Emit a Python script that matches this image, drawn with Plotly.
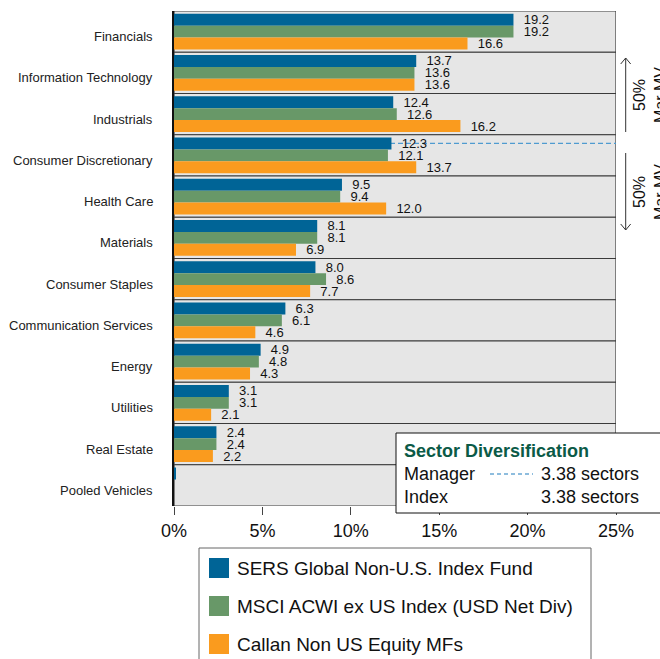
import plotly.graph_objects as go

categories = ["Financials", "Information Technology", "Industrials", "Consumer Discretionary",
              "Health Care", "Materials", "Consumer Staples", "Communication Services",
              "Energy", "Utilities", "Real Estate", "Pooled Vehicles"]
sers = [19.2, 13.7, 12.4, 12.3, 9.5, 8.1, 8.0, 6.3, 4.9, 3.1, 2.4, 0.1]
msci = [19.2, 13.6, 12.6, 12.1, 9.4, 8.1, 8.6, 6.1, 4.8, 3.1, 2.4, 0.0]
callan = [16.6, 13.6, 16.2, 13.7, 12.0, 6.9, 7.7, 4.6, 4.3, 2.1, 2.2, 0.0]
series_names = ["SERS Global Non-U.S. Index Fund", "MSCI ACWI ex US Index (USD Net Div)",
                "Callan Non US Equity MFs"]
colors = ["#006496", "#689868", "#FA9B1E"]
x_ticks = [0, 5, 10, 15, 20, 25]
x_tick_labels = ["0%", "5%", "10%", "15%", "20%", "25%"]
manager_div = "3.38 sectors"
index_div = "3.38 sectors"

FONT = "Arial, Liberation Sans, sans-serif"
L, R_EDGE, T, B_EDGE = 174, 616, 11, 506

def px(x):
    return (x - L) / (R_EDGE - L)

def py(y):
    return (B_EDGE - y) / (B_EDGE - T)

fig = go.Figure()
n = len(categories)
for name, vals, col in zip(series_names, [sers, msci, callan], colors):
    texts = ["\u00a0\u00a0%.1f" % v if c != "Pooled Vehicles" else "" for v, c in zip(vals, categories)]
    fig.add_trace(go.Bar(
        y=categories, x=vals, orientation="h", name=name,
        marker=dict(color=col, line=dict(width=0)),
        text=texts, textposition="outside", constraintext="none", cliponaxis=False,
        textfont=dict(family=FONT, size=13, color="#111"),
        showlegend=False, hoverinfo="skip"))

shapes = []
for i in range(n):
    shapes.append(dict(type="rect", xref="x", yref="y", x0=0, x1=25, y0=i - 0.5, y1=i + 0.5,
                       fillcolor="#e6e6e6", line=dict(color="#3a3a3a", width=1.2), layer="below"))
# manager cumulative 50% line (at SERS bar of Consumer Discretionary)
bw = (1 - 0.13) / 3
cd = categories.index("Consumer Discretionary")
shapes.append(dict(type="line", xref="x", yref="y", x0=0, x1=25, y0=cd - bw, y1=cd - bw,
                   line=dict(color="#4f9bd0", width=1.3, dash="5px,3px"), layer="below"))

# right side arrows
ax = px(625.7)
axl, axr = px(620.7), px(630.7)
shapes += [
    dict(type="line", xref="paper", yref="paper", x0=ax, x1=ax, y0=py(132), y1=py(58), line=dict(color="#333", width=1)),
    dict(type="path", xref="paper", yref="paper",
         path="M %f,%f L %f,%f L %f,%f" % (axl, py(64), ax, py(58), axr, py(64)), line=dict(color="#333", width=1)),
    dict(type="line", xref="paper", yref="paper", x0=ax, x1=ax, y0=py(153), y1=py(230), line=dict(color="#333", width=1)),
    dict(type="path", xref="paper", yref="paper",
         path="M %f,%f L %f,%f L %f,%f" % (axl, py(224), ax, py(230), axr, py(224)), line=dict(color="#333", width=1)),
]

# sector diversification box
shapes.append(dict(type="rect", xref="paper", yref="paper", x0=px(396), x1=px(680), y0=py(513), y1=py(433),
                   fillcolor="white", line=dict(color="#111", width=1), layer="above"))
shapes.append(dict(type="line", xref="paper", yref="paper", x0=px(490), x1=px(533), y0=py(474), y1=py(474),
                   line=dict(color="#6aa8d4", width=1.3, dash="4px,3px"), layer="above"))

# manual legend
shapes.append(dict(type="rect", xref="paper", yref="paper", x0=px(199), x1=px(591), y0=py(680), y1=py(548),
                   fillcolor="white", line=dict(color="#666", width=1), layer="above"))
leg_y = [568, 606, 644]
for yy, col in zip(leg_y, colors):
    shapes.append(dict(type="rect", xref="paper", yref="paper", x0=px(209), x1=px(229),
                       y0=py(yy + 10), y1=py(yy - 10), fillcolor=col, line=dict(width=0), layer="above"))

annotations = []
# category labels (slightly below the row centre, as in the reference)
for c in categories:
    annotations.append(dict(xref="paper", yref="y", x=0, y=c, xshift=-19, yshift=-5, text=c, showarrow=False,
                            xanchor="right", yanchor="middle", font=dict(family=FONT, size=13, color="#222")))

for yy, name in zip(leg_y, series_names):
    annotations.append(dict(xref="paper", yref="paper", x=px(235), y=py(yy), text=name, showarrow=False,
                            xanchor="left", yanchor="middle", font=dict(family=FONT, size=19, color="#111")))

annotations += [
    dict(xref="paper", yref="paper", x=px(402), y=py(451), text="<b>Sector Diversification</b>", showarrow=False,
         xanchor="left", yanchor="middle", font=dict(family=FONT, size=18, color="#0b5a47")),
    dict(xref="paper", yref="paper", x=px(402), y=py(474), text="Manager", showarrow=False,
         xanchor="left", yanchor="middle", font=dict(family=FONT, size=18, color="#111")),
    dict(xref="paper", yref="paper", x=px(402), y=py(497), text="Index", showarrow=False,
         xanchor="left", yanchor="middle", font=dict(family=FONT, size=18, color="#111")),
    dict(xref="paper", yref="paper", x=px(539), y=py(474), text=manager_div, showarrow=False,
         xanchor="left", yanchor="middle", font=dict(family=FONT, size=18, color="#111")),
    dict(xref="paper", yref="paper", x=px(539), y=py(497), text=index_div, showarrow=False,
         xanchor="left", yanchor="middle", font=dict(family=FONT, size=18, color="#111")),
    dict(xref="paper", yref="paper", x=px(650), y=py(95), text="50%<br>Mar MV", textangle=-90, showarrow=False,
         xanchor="center", yanchor="middle", font=dict(family=FONT, size=16, color="#111")),
    dict(xref="paper", yref="paper", x=px(650), y=py(192), text="50%<br>Mar MV", textangle=-90, showarrow=False,
         xanchor="center", yanchor="middle", font=dict(family=FONT, size=16, color="#111")),
]

fig.update_layout(
    width=660, height=659,
    margin=dict(l=L, r=660 - R_EDGE, t=T, b=659 - B_EDGE),
    paper_bgcolor="white", plot_bgcolor="white",
    barmode="group", bargap=0.13, bargroupgap=0,
    shapes=shapes, annotations=annotations,
    xaxis=dict(range=[0, 25], tickvals=x_ticks, ticktext=x_tick_labels, showgrid=False, zeroline=False,
               ticks="outside", ticklen=8, tickwidth=1.3, tickcolor="#444", showline=False,
               tickfont=dict(family=FONT, size=18, color="#111")),
    yaxis=dict(categoryorder="array", categoryarray=categories, range=[n - 0.5, -0.5],
               showgrid=False, zeroline=False, showline=True, linecolor="#111", linewidth=1.5,
               showticklabels=False, ticks=""),
)

fig.write_html("out.html", config={"displayModeBar": False},
               post_script="document.body.style.margin='0';document.body.style.overflow='hidden';")
